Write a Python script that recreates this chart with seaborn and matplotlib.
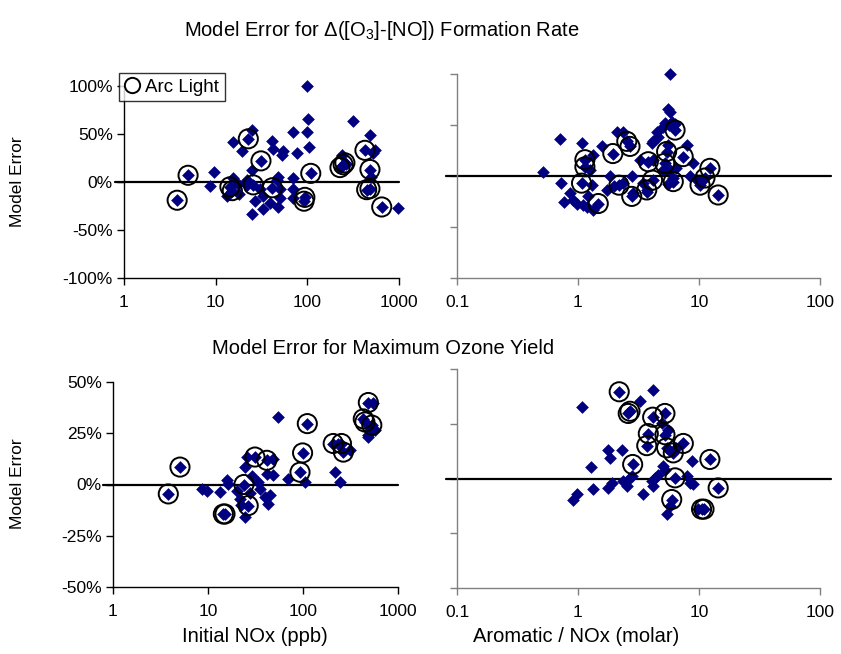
import numpy as np
import pandas as pd
import matplotlib
matplotlib.use("Agg")
import matplotlib.pyplot as plt
import seaborn as sns

# ---- Formation rate error vs initial NOx (ppb) ----
rate_nox_x = [3.8, 5.0, 8.7, 9.7, 14.3, 15.2, 13.2, 15.6, 15.6, 19.2, 21.8, 21.8, 22.7, 24.7, 24.7,
              24.7, 25.7, 30.5, 31.2, 33, 33, 39, 40.8, 42.4, 41.5, 46.3, 48.3, 50, 48.3, 52.5,
              53.8, 69, 70, 70, 69, 76.5, 98, 102, 100, 104, 94, 92, 109, 227, 246,
              257, 236, 265, 317, 425, 482, 482, 500, 482, 444, 520, 545, 648, 968, 17.5,
              27, 50, 18]
rate_nox_y = [-19, 7, -4, 10, -5, -9, -15, 4, 42, 32, 2, -3, 45, 54, 12,
              -33, -3, -7, 22, -15, -28, -22, 43, 34, -6, 2, -26, -7, 5, 28,
              32, 52, 4, -7, -17, 30, 100, 66, 52, 36, -16, -20, 9, 15, 18,
              20, 28, 19, 64, 33, 49, 13, 5, -7, -8, 30, 33, -26, -27, -2,
              -20, -17, -12]
rate_nox_arc = [1, 1, 0, 0, 1, 1, 0, 0, 0, 0, 0, 0, 1, 0, 0,
                0, 1, 0, 1, 0, 0, 0, 0, 0, 1, 0, 0, 0, 0, 0,
                0, 0, 0, 0, 0, 0, 0, 0, 0, 0, 1, 1, 1, 1, 1,
                1, 0, 0, 0, 1, 0, 1, 0, 1, 1, 0, 0, 1, 0, 0,
                0, 0, 0]

# ---- Formation rate error vs aromatic / NOx ----
rate_ratio_x = [5.76, 5.57, 5.76, 5.2, 5.6, 5.0, 6.0, 6.3, 6.34, 4.47, 4.19, 4.6, 7.9, 7.4, 9.0,
                8.4, 12.3, 11.2, 10.2, 14.4, 5.4, 5.2, 5.07, 6.13, 3.81, 4.13, 3.70, 2.78, 2.18, 2.69,
                2.53, 1.94, 2.09, 2.37, 1.57, 1.34, 1.07, 0.71, 0.51, 0.73, 0.76, 0.86, 0.91, 0.98, 1.1,
                1.18, 1.34, 1.47, 1.14, 1.14, 1.07, 1.26, 1.30, 1.84, 1.73, 2.78, 2.86, 2.37, 3.25, 4.06,
                4.19, 3.46, 5.76, 6.13, 9.56, 5.5, 2.0, 1.2, 3.7, 6.5, 5.5]
rate_ratio_y = [100, 66, 63, 52, 50, 48, 53, 51, 45, 43, 34, 38, 30, 19, 12.5,
                0, 7.5, -2, -9, -18.6, 24, 12.5, 6, -5.5, 14, -4, -13.7, -20, -9, 29,
                34, 22, 43, 43, 29, 21, 32, 36, 4, -7, -25, -17, -23.5, -27, -28,
                -30, -33, -27, 16, 9, -7, 6, -9, 0, -14, 0, -17, -7, 16, 32,
                16, -7, 6, -2, -4, -8, -10, -20, -16, 8, 30]
rate_ratio_arc = [0, 0, 0, 0, 0, 0, 0, 0, 1, 0, 0, 0, 0, 1, 0,
                  0, 1, 1, 1, 1, 1, 1, 0, 1, 1, 1, 1, 1, 1, 1,
                  1, 1, 0, 0, 0, 0, 0, 0, 0, 0, 0, 0, 0, 0, 0,
                  0, 0, 1, 1, 1, 1, 0, 0, 0, 0, 0, 0, 0, 0, 0,
                  0, 0, 0, 0, 0, 0, 0, 0, 0, 0, 0]

# ---- Maximum ozone yield error vs initial NOx (ppb) ----
yield_nox_x = [3.82, 5.07, 8.59, 9.67, 13.4, 15.7, 16.4, 14.5, 15.1, 24.5, 26.5, 23.9, 21.7, 24.5, 25.6,
               31.2, 33.9, 35.3, 39.8, 43.1, 44.9, 41.6, 48.7, 41.6, 48.7, 55, 70, 93, 99, 105,
               111, 208, 232, 254, 266, 312, 217, 245, 431, 448, 530, 487, 550, 487, 506,
               574, 487, 20, 28, 29, 22]
yield_nox_y = [-4.6, 8.5, -2, -3, -3.8, 2, 0.3, -14.4, -14.4, -16, -10.3, 0, -7, 8.5, 13.4,
               13.4, 1, -2, -6, -9.5, -5, 5, 4.4, 11.8, 12.6, 33, 2.8, 6, 15.4, 1,
               29.7, 20, 20, 20, 15.8, 16.7, 6, 1, 32, 30.5, 29, 40, 40, 24, 26.5,
               26.5, 23, -3, -4, 4, -10]
yield_nox_arc = [1, 1, 0, 0, 0, 0, 0, 1, 1, 0, 1, 1, 0, 0, 0,
                 1, 0, 0, 0, 0, 0, 0, 0, 1, 0, 0, 0, 1, 1, 0,
                 1, 1, 0, 1, 1, 0, 0, 0, 1, 1, 1, 1, 0, 0, 0,
                 0, 0, 0, 0, 0, 0]

# ---- Maximum ozone yield error vs aromatic / NOx ----
yield_ratio_x = [2.19, 4.14, 1.07, 3.25, 2.69, 2.6, 4.14, 5.23, 4.92, 3.81, 5.23, 3.70, 5.4, 7.42, 6.13,
                 5.76, 8.72, 12.3, 2.83, 2.29, 1.78, 1.84, 1.27, 5.07, 5.23, 4.6, 4.33, 6.34, 7.9, 8.4,
                 9.0, 14.4, 2.78, 2.6, 2.34, 2.53, 1.9, 1.78, 1.34, 0.98, 0.91, 3.46, 4.19, 4.06, 5.95,
                 5.76, 5.4, 10.5, 11.0, 9.9, 5.5, 6.5]
yield_ratio_y = [39.6, 40.6, 32.7, 35.3, 30.7, 29.7, 28, 29.7, 25.4, 20.5, 20, 15, 14, 16, 11.7,
                 12.5, 8, 8.7, 6.4, 13.2, 13, 9.5, 5.3, 5.6, 4, 1.8, 0.3, 0.3, 1, -2,
                 -2.7, -4.3, 1, -0.5, -1.2, -3.5, -2, -4.3, -5, -7.3, -9.6, -7.3, -3.5, -1.2, -9.6,
                 -12.6, -16, -14, -14, -14, 22, 14]
yield_ratio_arc = [1, 0, 0, 0, 1, 1, 1, 1, 0, 1, 1, 1, 1, 1, 1,
                   0, 0, 1, 1, 0, 0, 0, 0, 0, 0, 0, 0, 1, 0, 0,
                   0, 1, 0, 0, 0, 0, 0, 0, 0, 0, 0, 0, 0, 0, 1,
                   0, 0, 1, 1, 0, 0, 0]

nox_ticks = [1, 10, 100, 1000]
nox_ticklabels = ["1", "10", "100", "1000"]
ratio_ticks = [0.1, 1, 10, 100]
ratio_ticklabels = ["0.1", "1", "10", "100"]
rate_yticks = [-100, -50, 0, 50, 100]
rate_yticklabels = ["-100%", "-50%", "0%", "50%", "100%"]
yield_yticks = [-50, -25, 0, 25, 50]
yield_yticklabels = ["-50%", "-25%", "0%", "25%", "50%"]

sns.set_style("white")
plt.rcParams["font.family"] = ["Liberation Sans", "DejaVu Sans"]
plt.rcParams["mathtext.fontset"] = "custom"
plt.rcParams["mathtext.rm"] = "Liberation Sans"
plt.rcParams["mathtext.it"] = "Liberation Sans:italic"
plt.rcParams["mathtext.bf"] = "Liberation Sans:bold"
plt.rcParams["axes.unicode_minus"] = False
plt.rcParams["text.color"] = "black"
plt.rcParams["axes.labelcolor"] = "black"
plt.rcParams["xtick.color"] = "black"
plt.rcParams["ytick.color"] = "black"

W, H = 841, 654
fig = plt.figure(figsize=(W / 100, H / 100), dpi=100)


def add_axes_px(left, top, right, bottom):
    return fig.add_axes([left / W, 1 - bottom / H, (right - left) / W, (bottom - top) / H])


NAVY = "#000080"


def draw_panel(ax, xs, ys, arc, xlim, xticks, xlabels, ylim, yticks, ylabels,
               show_ylabels, spine_color, line_x):
    df = pd.DataFrame({"x": xs, "y": ys, "arc": arc})
    sns.scatterplot(data=df, x="x", y="y", marker="D", color=NAVY, s=42,
                    linewidth=0, ax=ax, zorder=3, legend=False)
    ax.axhline(0, xmin=line_x[0], xmax=line_x[1], color="black", lw=1.6,
               zorder=2, clip_on=False)
    sns.scatterplot(data=df[df["arc"] == 1], x="x", y="y", marker="o",
                    facecolors="none", edgecolor="black", linewidth=1.4, s=190,
                    ax=ax, zorder=4, legend=False)
    ax.set_xscale("log")
    ax.set_xlim(*xlim)
    ax.set_ylim(*ylim)
    ax.set_xticks(xticks)
    ax.set_xticklabels(xlabels)
    ax.xaxis.set_minor_locator(matplotlib.ticker.NullLocator())
    ax.set_yticks(yticks)
    if show_ylabels:
        ax.set_yticklabels(ylabels)
    else:
        ax.set_yticklabels([])
    ax.set_xlabel("")
    ax.set_ylabel("")
    for side in ("top", "right"):
        ax.spines[side].set_visible(False)
    for side in ("left", "bottom"):
        ax.spines[side].set_color(spine_color)
        ax.spines[side].set_linewidth(1.0)
    ax.tick_params(axis="both", which="major", direction="out", length=5, width=1,
                   color=spine_color, labelsize=12.5, labelcolor="black",
                   left=True, bottom=True)
    ax.tick_params(axis="x", pad=7)
    ax.tick_params(axis="y", pad=3)
    ax.patch.set_alpha(0)
    for c in ax.collections:
        c.set_clip_on(False)


ax_tl = add_axes_px(124, 86, 399, 278)
draw_panel(ax_tl, rate_nox_x, rate_nox_y, rate_nox_arc, (1, 1000), nox_ticks, nox_ticklabels,
           (-100, 100), rate_yticks, rate_yticklabels, True, "black", (-0.033, 1.0))

ax_tr = add_axes_px(457, 74, 820, 278)
draw_panel(ax_tr, rate_ratio_x, rate_ratio_y, rate_ratio_arc, (0.1, 100), ratio_ticks, ratio_ticklabels,
           (-100, 100), rate_yticks, rate_yticklabels, False, "#808080", (-0.03, 1.03))

ax_bl = add_axes_px(113, 382, 398, 587)
draw_panel(ax_bl, yield_nox_x, yield_nox_y, yield_nox_arc, (1, 1000), nox_ticks, nox_ticklabels,
           (-50, 50), yield_yticks, yield_yticklabels, True, "black", (-0.035, 1.0))

ax_br = add_axes_px(457, 369, 820, 588)
draw_panel(ax_br, yield_ratio_x, yield_ratio_y, yield_ratio_arc, (0.1, 100), ratio_ticks, ratio_ticklabels,
           (-50, 50), yield_yticks, yield_yticklabels, False, "#808080", (-0.03, 1.03))

# Titles and axis labels
fig.text(382 / W, 1 - 31 / H, r"Model Error for Δ([O$_{\mathregular{3}}$]-[NO]) Formation Rate",
         ha="center", va="center", fontsize=14.5)
fig.text(383 / W, 1 - 349 / H, "Model Error for Maximum Ozone Yield",
         ha="center", va="center", fontsize=14.5)
fig.text(18 / W, 1 - 182 / H, "Model Error", rotation=90, ha="center", va="center", fontsize=12.5)
fig.text(18 / W, 1 - 484 / H, "Model Error", rotation=90, ha="center", va="center", fontsize=12.5)
fig.text(255 / W, 1 - 637 / H, "Initial NOx (ppb)", ha="center", va="center", fontsize=14.5)
fig.text(576 / W, 1 - 637 / H, "Aromatic / NOx (molar)", ha="center", va="center", fontsize=14.5)

# Arc-light legend box
handle = plt.Line2D([], [], linestyle="none", marker="o", markersize=11,
                    markerfacecolor="none", markeredgecolor="black", markeredgewidth=1.4)
leg = fig.legend([handle], ["Arc Light"], loc="upper left",
                 bbox_to_anchor=(119 / W, 1 - 73 / H), borderaxespad=0,
                 frameon=True, fancybox=False, fontsize=13.5, handlelength=0.8,
                 handletextpad=0.3, borderpad=0.3)
leg.get_frame().set_edgecolor("black")
leg.get_frame().set_linewidth(1.0)

fig.savefig("out.png", dpi=100)
